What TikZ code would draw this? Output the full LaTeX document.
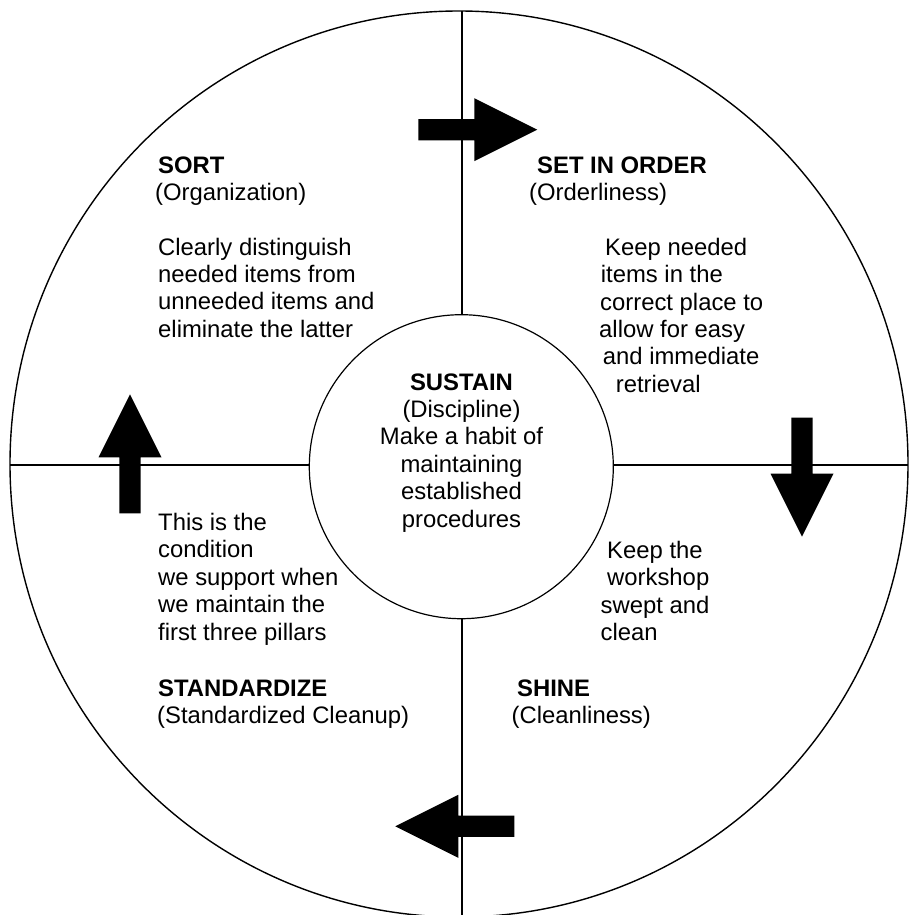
\documentclass[tikz,border=0pt]{standalone}
\usepackage{fontspec}
\setmainfont{Liberation Sans}
\tikzset{
  txt/.style={anchor=base west, inner sep=0pt, font=\fontsize{23.85}{27.4}\selectfont},
  hd/.style={txt, font=\fontsize{23.85}{27.4}\selectfont\bfseries},
  ctr/.style={txt, anchor=base},
  fatarrow/.pic={\fill (0,-10.6) -- (56,-10.6) -- (56,-31.5) -- (119,0) -- (56,31.5) -- (56,10.6) -- (0,10.6) -- cycle;}
}
\begin{document}
\begin{tikzpicture}[x=1pt,y=-1pt]
  \useasboundingbox (0,0) rectangle (909,915);
  % Wheel and spokes
  \draw[line width=1.4pt] (459,464) ellipse [x radius=449, y radius=453];
  \draw[line width=1.2pt] (462,11) -- (462,915);
  \draw[line width=1.2pt] (10,465) -- (908,465);

  % Cycle arrows
  \pic at (418.3,129.7) {fatarrow};
  \pic[rotate=-90] at (802,417.7) {fatarrow};
  \pic[rotate=180] at (514.3,826.3) {fatarrow};
  \pic[rotate=90] at (130,513.3) {fatarrow};

  % Hub
  \draw[fill=white, line width=1.2pt] (461.3,466.7) circle [radius=152];
  \node[hd, anchor=base] (sustain) at (461.5,390) {SUSTAIN};
  \foreach \line [count=\i] in {{(Discipline)}, Make a habit of, maintaining, established, procedures}
    \node[ctr] (sustain\i) at (461.5,{390+27.4*\i}) {\line};

  % Sort
  \node[hd] (sort) at (158,173) {SORT};
  \node[txt] (sortsub) at (155,200.5) {(Organization)};
  \foreach \line [count=\i] in {Clearly distinguish, needed items from, unneeded items and, eliminate the latter}
    \node[txt] (sort\i) at (158,{227.6+27.4*\i}) {\line};

  % Set in order
  \node[hd] (order) at (537,173.3) {SET IN ORDER};
  \node[txt] (ordersub) at (529,200.5) {(Orderliness)};
  \foreach \xx/\line [count=\i] in {605/Keep needed, 600.7/items in the, 600/correct place to, 599/allow for easy, 602.7/and immediate, 615.7/retrieval}
    \node[txt] (order\i) at (\xx,{227.9+27.4*\i}) {\line};

  % Shine
  \foreach \xx/\line [count=\i] in {607/Keep the, 607/workshop, 600.5/swept and, 600.5/clean}
    \node[txt] (shine\i) at (\xx,{530.9+27.4*\i}) {\line};
  \node[hd] (shine) at (517,696) {SHINE};
  \node[txt] (shinesub) at (511.5,723.4) {(Cleanliness)};

  % Standardize
  \foreach \line [count=\i] in {This is the, condition, we support when, we maintain the, first three pillars}
    \node[txt] (std\i) at (158,{503.1+27.4*\i}) {\line};
  \node[hd] (standardize) at (158,696) {STANDARDIZE};
  \node[txt] (stdsub) at (157,723.4) {(Standardized Cleanup)};
\end{tikzpicture}
\end{document}
